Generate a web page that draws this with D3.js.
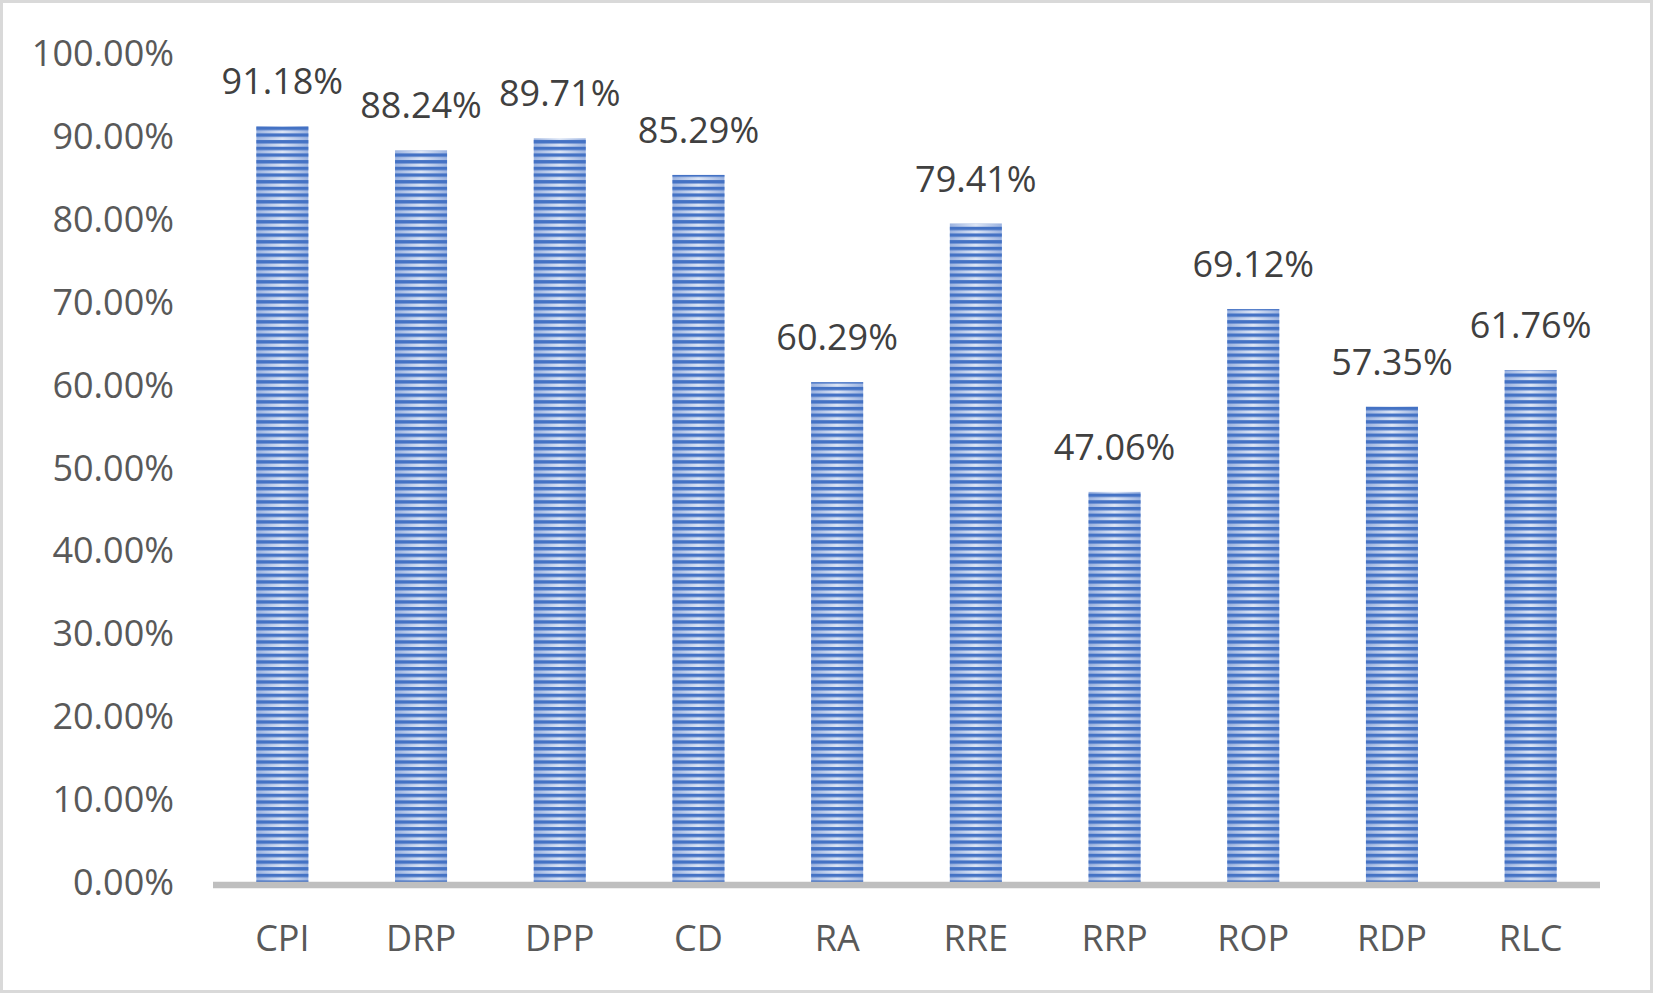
<!doctype html>
<html>
<head>
	<meta charset="utf-8">
	<title>Chart</title>
	<script src="https://cdnjs.cloudflare.com/ajax/libs/d3/7.8.5/d3.min.js"></script>
	<style>
		body { margin: 0; background: #fff; }
		svg { display: block; }
		text { font-family: "Open Sans", sans-serif; }
	</style>
</head>
<body>
	<script>
		var categories = ['CPI', 'DRP', 'DPP', 'CD', 'RA', 'RRE', 'RRP', 'ROP', 'RDP', 'RLC'];
		var values = [91.18, 88.24, 89.71, 85.29, 60.29, 79.41, 47.06, 69.12, 57.35, 61.76];
		var yTicks = [0, 10, 20, 30, 40, 50, 60, 70, 80, 90, 100];

		var width = 1653, height = 993;

		var svg = d3.select('body').append('svg')
			.attr('width', width)
			.attr('height', height);

		// outer frame
		svg.append('rect')
			.attr('x', 1.5).attr('y', 1.5)
			.attr('width', width - 3).attr('height', height - 3)
			.attr('fill', '#fff')
			.attr('stroke', '#d9d9d9')
			.attr('stroke-width', 3);

		var defs = svg.append('defs');

		// light part of the bar: lighter in the middle
		var grad = defs.append('linearGradient')
			.attr('id', 'barGrad')
			.attr('x1', '0%').attr('x2', '100%')
			.attr('y1', '0%').attr('y2', '0%');
		grad.append('stop').attr('offset', '0%').attr('stop-color', '#9ab2e0');
		grad.append('stop').attr('offset', '50%').attr('stop-color', '#dce5f5');
		grad.append('stop').attr('offset', '100%').attr('stop-color', '#9ab2e0');

		// dark horizontal stripes
		var pat = defs.append('pattern')
			.attr('id', 'stripes')
			.attr('patternUnits', 'userSpaceOnUse')
			.attr('width', 10)
			.attr('height', 6.67);
		pat.append('rect')
			.attr('x', 0).attr('y', 0)
			.attr('width', 10).attr('height', 3.4)
			.attr('fill', '#4472c4');

		var x = d3.scaleBand()
			.domain(categories)
			.range([213, 1600])
			.paddingInner(0.625)
			.paddingOuter(0.3125);

		var y = d3.scaleLinear()
			.domain([0, 100])
			.range([882, 53]);

		var bars = svg.append('g').selectAll('g')
			.data(values)
			.enter()
			.append('g');

		bars.append('rect')
			.attr('x', function (d, i) { return x(categories[i]); })
			.attr('y', function (d) { return y(d); })
			.attr('width', x.bandwidth())
			.attr('height', function (d) { return y(0) - y(d); })
			.attr('fill', 'url(#barGrad)');

		bars.append('rect')
			.attr('x', function (d, i) { return x(categories[i]); })
			.attr('y', function (d) { return y(d); })
			.attr('width', x.bandwidth())
			.attr('height', function (d) { return y(0) - y(d); })
			.attr('fill', 'url(#stripes)');

		// data labels
		bars.append('text')
			.attr('x', function (d, i) { return x(categories[i]) + x.bandwidth() / 2; })
			.attr('y', function (d) { return y(d) - 32; })
			.attr('text-anchor', 'middle')
			.attr('font-size', 36)
			.attr('fill', '#404040')
			.text(function (d) { return d.toFixed(2) + '%'; });

		// x axis line
		svg.append('line')
			.attr('x1', 213).attr('x2', 1600)
			.attr('y1', 885).attr('y2', 885)
			.attr('stroke', '#bfbfbf')
			.attr('stroke-width', 6.5);

		// y tick labels
		svg.append('g').selectAll('text')
			.data(yTicks)
			.enter()
			.append('text')
			.attr('x', 174)
			.attr('y', function (d) { return y(d) + 13; })
			.attr('text-anchor', 'end')
			.attr('font-size', 36)
			.attr('fill', '#595959')
			.text(function (d) { return d.toFixed(2) + '%'; });

		// category labels
		svg.append('g').selectAll('text')
			.data(categories)
			.enter()
			.append('text')
			.attr('x', function (d) { return x(d) + x.bandwidth() / 2; })
			.attr('y', 951)
			.attr('text-anchor', 'middle')
			.attr('font-size', 36)
			.attr('fill', '#595959')
			.text(function (d) { return d; });
	</script>
</body>
</html>
